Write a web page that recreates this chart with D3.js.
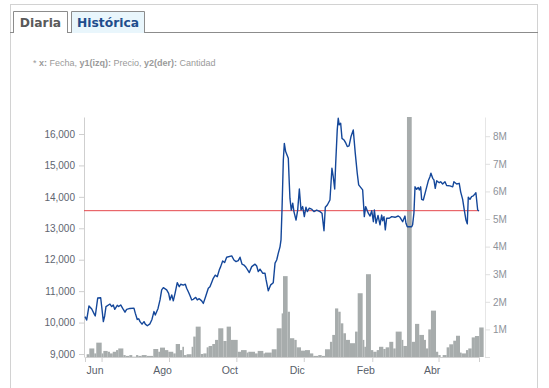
<!DOCTYPE html>
<html>
<head>
<meta charset="utf-8">
<script src="https://cdn.jsdelivr.net/npm/d3@7"></script>
<style>
  html, body { margin: 0; padding: 0; background: #fff; }
  svg { display: block; }
</style>
</head>
<body>
<svg id="chart" width="549" height="388"></svg>
<script>
// ---------------- DATA ----------------
const startDate = new Date(2023, 4, 17);   // first day shown
const spanDays = 356.6;                     // length of shown period (days)

const tabLabels = ["Diaria", "Histórica"];
const xTickDates = ["2023-06-01", "2023-08-01", "2023-10-01", "2023-12-01", "2024-02-01", "2024-04-01"];
const xTickLabels = ["Jun", "Ago", "Oct", "Dic", "Feb", "Abr"];
const priceTicks = [9000, 10000, 11000, 12000, 13000, 14000, 15000, 16000];
const volumeTicks = [0, 1, 2, 3, 4, 5, 6, 7, 8];   // millions
const refPrice = 13560;

// price line: day offset from startDate, price
const priceDay = [0,1.5,3.6,6.1,8.4,9.3,11.5,14.2,15.1,16.6,17.8,19,22.6,24.2,25.6,26.9,29.2,30.5,32.3,34.1,36.2,37.7,40.7,44.3,45.5,47.3,48.6,49.8,51.6,53.4,54.6,56.4,58.8,60.6,62.4,63.6,66.1,67.9,69.4,70.9,73.9,75.7,76.9,78.5,79.9,81.5,83.5,85.3,86.6,89,90.8,92,93.5,95,96.6,98,100.2,101.6,103.4,105.6,107.1,108.9,111.6,113.1,114.9,116.1,117.9,119.7,121.5,122.8,124.6,126.4,128.2,132.8,134.8,136.7,138.7,140.3,142.1,143.9,145.7,148.7,150.9,153.9,155.4,156.8,158.4,160.8,162.9,163.8,165.9,168.1,170.4,172,173.5,174.9,176.5,177.4,178.3,179.5,180.4,181.6,184,184.9,185.5,186.7,188,189.1,191,192.5,194,195.5,197,198.5,200,201.2,203,205.4,207.2,209.7,212.7,214.5,216.3,217.5,219.3,221.7,223.5,224.7,226,226.9,228.3,229.2,230.1,231.4,232.6,234.4,236.2,237.4,239,240.7,242.8,244.6,246.4,247.7,249.5,251.3,252.8,254,256.4,258,259.5,261,261.9,263.4,265.2,267,268.5,269.4,270.6,271.8,273,275.4,277.6,280.6,283.5,285.1,287.5,289.6,290.5,291.7,295.7,296.5,297.7,298.7,300.2,301.6,302.6,303.8,304.7,306.2,308.6,310.7,312.2,313.1,314.7,315.8,317,318.3,320.6,321.9,323.7,325.8,327.3,330.3,332.8,333.9,336.4,338.7,340,341.8,343.3,344.8,346,346.9,348.4,349.9,351.4,352.9,353.8,355.4,356.6];
const priceVal = [10190,10080,10530,10430,10270,10210,10780,10790,10510,10030,10210,10510,10590,10510,10560,10420,10550,10510,10560,10450,10330,10420,10450,10460,10300,10100,10120,10030,9950,10030,9950,9900,9960,10100,10350,10240,10450,10720,11040,11110,11040,10930,10720,10880,10690,10930,11270,11140,11220,11190,11220,11090,10980,10860,10720,10740,10800,10720,10760,10690,10610,10800,11090,11140,11300,11410,11510,11460,11670,11780,11960,11910,12080,12120,11990,11940,11970,12080,11860,11830,11760,11590,11780,11860,11800,11620,11700,11570,11570,11380,11010,11200,11270,11890,11990,12200,12410,12630,13580,15170,15700,15440,15230,14430,13950,13580,13800,13530,13260,13580,14250,13580,13690,13370,13670,13530,13640,13600,13530,13580,13530,13480,12920,13670,13740,13900,14910,14640,14250,15070,16130,16500,16290,16340,15860,15810,15700,15600,15620,15910,16130,15390,14750,14380,14300,14220,13370,13690,13480,13390,13560,13210,13580,13160,13410,13110,13420,13240,13370,12950,13320,13320,13370,13350,13390,13350,13210,13390,13160,13050,13050,13110,13480,14320,14240,14300,14220,14320,13920,13900,14220,14510,14640,14750,14590,14540,14270,14510,14450,14480,14410,14480,14360,14350,14320,14480,14410,14430,14160,13920,13580,13260,13140,13990,13920,14010,14030,14090,14130,13580,13550];

// volume bars: start day offset, quantity (millions)
const volDay = [1.5,3.9,8.4,10.2,15.1,16.6,20.5,22.6,25.1,28.1,30.1,34.7,36.8,40.1,42.8,46.2,48.2,51.3,55.8,61.8,66.3,67.9,72.4,75.4,79.9,82.1,86,88.1,89.6,92,96.5,98,100.2,104.7,107.1,110.1,111.9,115.2,117.7,120.6,125.2,128.2,132.1,138.2,141.2,146.3,147.8,153.9,156.3,161.4,162.9,169,173.5,178,179.2,183.4,185.5,189.4,191.6,195.5,199.1,203.6,206.6,211.1,214.2,217.2,221.7,223.8,226.3,229.2,231.4,233.8,236.2,239.8,244.4,246.8,251.3,252.8,254.3,258.8,260.9,264,266.1,270,272.1,275.4,279,281.2,286.6,288.1,291.4,295.7,298.7,302.5,306.8,308.6,310.7,313.1,317.7,319.7,321.9,323.7,327.3,329.7,333.3,335.8,339.4,340.9,344.8,346.9,350,352.9,356.8];
const volVal = [0.10,0.31,0.13,0.52,0.13,0.22,0.19,0.13,0.19,0.25,0.31,0.07,0.04,0.07,0.01,0.07,0.04,0.07,0.04,0.29,0.19,0.34,0.25,0.19,0.13,0.47,0.25,0.37,0.07,0.10,0.37,0.74,1.10,0.11,0.13,0.35,0.40,0.47,0.62,1.04,0.58,1.10,0.62,0.19,0.25,0.16,0.19,0.13,0.22,0.13,0.16,0.28,1.04,1.58,2.93,1.64,0.68,0.62,0.35,0.23,0.25,0.13,0.04,0.07,0.04,0.28,0.55,0.80,1.76,1.64,1.22,0.86,0.62,0.50,0.92,2.31,0.62,0.37,3.00,0.25,0.19,0.25,0.37,0.29,0.35,0.55,0.31,0.92,0.62,0.40,9.50,0.55,1.20,0.80,0.62,0.31,1.00,1.68,0.19,0.07,0.00,0.07,0.35,0.46,0.59,0.77,0.16,0.13,0.25,0.31,0.71,0.76,1.07];
const lastBarDays = 4;

// ---------------- DRAW ----------------
const svg = d3.select("#chart");
const font = "'Liberation Sans', Arial, sans-serif";
const dayToDate = d => new Date(startDate.getTime() + d * 864e5);

const plot = { left: 85, right: 479, top: 117, bottom: 357, leftAxis: 84, rightAxis: 485 };

// outer frame + tabs
svg.append("rect").attr("x", 10.5).attr("y", 4.5).attr("width", 527).attr("height", 400)
  .attr("fill", "none").attr("stroke", "#d2d2d2");
svg.append("line").attr("x1", 10).attr("x2", 538).attr("y1", 32.5).attr("y2", 32.5)
  .attr("stroke", "#8c8c8c");
const tabs = [{x: 13.5, w: 54}, {x: 71.5, w: 73}];
tabLabels.forEach((t, i) => {
  const active = i === 1;
  svg.append("path")
    .attr("d", `M${tabs[i].x},33 V11.5 H${tabs[i].x + tabs[i].w} V33`)
    .attr("fill", active ? "#e9f6fc" : "#fff")
    .attr("stroke", "#8c8c8c");
  svg.append("text").attr("x", tabs[i].x + tabs[i].w / 2).attr("y", 27)
    .attr("text-anchor", "middle")
    .attr("font-family", "'DejaVu Sans', Verdana, sans-serif").attr("font-weight", "bold")
    .attr("font-size", 12.3)
    .attr("fill", active ? "#1f4d8c" : "#5a5a5a").text(t);
});

// subtitle
const sub = svg.append("text").attr("x", 33).attr("y", 65.5)
  .attr("font-family", font).attr("font-size", 9).attr("fill", "#9a9a9a");
[["* ", false], ["x:", true], [" Fecha, ", false], ["y1(izq):", true], [" Precio, ", false], ["y2(der):", true], [" Cantidad", false]]
  .forEach(([t, b]) => sub.append("tspan").attr("font-weight", b ? "bold" : "normal").text(t));

// scales
const x = d3.scaleTime().domain([startDate, dayToDate(spanDays)]).range([plot.left, plot.right]);
const yP = d3.scaleLinear().domain([8904.6, 16540.6]).range([plot.bottom, plot.top]);
const yV = d3.scaleLinear().domain([0, 8.696]).range([plot.bottom, plot.top]).clamp(true);

// volume bars
const bars = volDay.map((d, i) => ({
  d0: d, d1: i < volDay.length - 1 ? volDay[i + 1] : d + lastBarDays, v: volVal[i]
}));
svg.append("g").selectAll("rect").data(bars).join("rect")
  .attr("x", b => x(dayToDate(b.d0)))
  .attr("width", b => x(dayToDate(b.d1)) - x(dayToDate(b.d0)))
  .attr("y", b => yV(b.v))
  .attr("height", b => yV(0) - yV(b.v))
  .attr("fill", "#a7acac");

// left axis
const gL = svg.append("g").attr("transform", `translate(${plot.leftAxis},0)`)
  .call(d3.axisLeft(yP).tickValues(priceTicks).tickFormat(d3.format(",")).tickSize(5).tickSizeOuter(0).tickPadding(4));
gL.select(".domain").attr("stroke", "#cfcfcf");
gL.selectAll(".tick line").attr("stroke", "#cfcfcf");
gL.selectAll("text").attr("font-family", font).attr("font-size", 10).attr("fill", "#5e6570");

// right axis
const gR = svg.append("g").attr("transform", `translate(${plot.rightAxis},0)`)
  .call(d3.axisRight(yV).tickValues(volumeTicks).tickFormat(d => d === 0 ? "" : d + "M").tickSize(5).tickSizeOuter(0).tickPadding(3));
gR.select(".domain").attr("stroke", "#e6e6e6");
gR.selectAll(".tick line").attr("stroke", "#e0e0e0");
gR.selectAll("text").attr("font-family", font).attr("font-size", 10).attr("fill", "#8e939a");

// bottom axis
const gB = svg.append("g").attr("transform", `translate(0,${plot.bottom})`)
  .call(d3.axisBottom(x).tickValues(xTickDates.map(s => d3.timeParse("%Y-%m-%d")(s)))
    .tickFormat((d, i) => xTickLabels[i]).tickSize(5).tickSizeOuter(5).tickPadding(5));
gB.select(".domain").attr("stroke", "#cfcfcf");
gB.selectAll(".tick line").attr("stroke", "#cfcfcf");
gB.selectAll("text").attr("font-family", font).attr("font-size", 10.5).attr("fill", "#58606a").attr("dx", -7);

// reference line
svg.append("line").attr("x1", plot.leftAxis).attr("x2", plot.right)
  .attr("y1", yP(refPrice)).attr("y2", yP(refPrice))
  .attr("stroke", "#e5484d").attr("stroke-width", 1);

// price line
const pts = priceDay.map((d, i) => [dayToDate(d), priceVal[i]]);
svg.append("path").datum(pts)
  .attr("fill", "none").attr("stroke", "#14479a").attr("stroke-width", 1.4)
  .attr("stroke-linejoin", "round")
  .attr("d", d3.line().x(p => x(p[0])).y(p => yP(p[1])));
</script>
</body>
</html>
